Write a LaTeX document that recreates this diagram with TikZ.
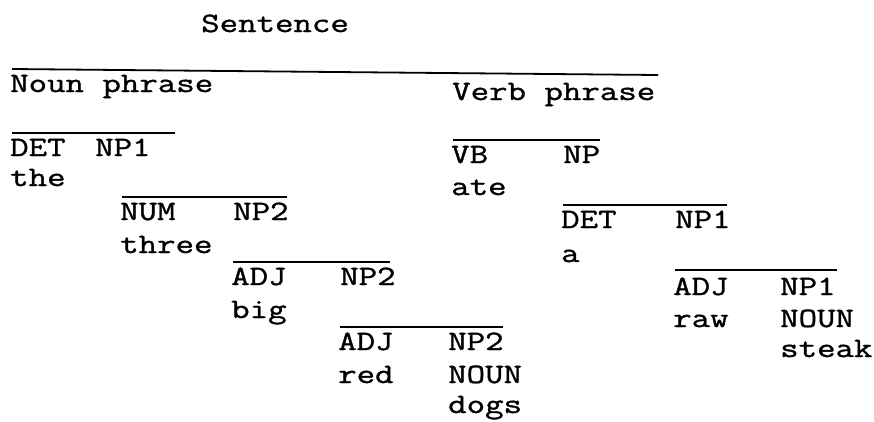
\documentclass[tikz,border=0pt]{standalone}
\usepackage{fontspec}
\newfontfamily\tw[FakeStretch=1.28,FakeBold=1.2]{Latin Modern Mono}
\begin{document}
\begin{tikzpicture}[x=1pt,y=-1pt,
  lbl/.style={anchor=base west,inner sep=0pt,font=\tw\fontsize{28}{30}\selectfont},
  bar/.style={line width=1.8pt}]
\useasboundingbox[fill=white] (0,0) rectangle (874,421);
% top level
\node[lbl] (sent) at (201,32) {Sentence};
\draw[bar] (12,69) -- (658,75);
\node[lbl] (np) at (10,92) {Noun phrase};
\node[lbl] (vp) at (452,100) {Verb phrase};
% noun phrase branch
\draw[bar] (12,133) -- (175,133);
\node[lbl] (det1) at (10,156) {DET};
\node[lbl] (np1a) at (95,156) {NP1};
\node[lbl] (the) at (10,186) {the};
\draw[bar] (122,197) -- (287,197);
\node[lbl] (num) at (120,220) {NUM};
\node[lbl] (np2a) at (233,220) {NP2};
\node[lbl] (three) at (120,253) {three};
\draw[bar] (233,262) -- (390,262);
\node[lbl] (adj1) at (231,285) {ADJ};
\node[lbl] (np2b) at (340,285) {NP2};
\node[lbl] (big) at (231,318) {big};
\draw[bar] (340,327) -- (503,327);
\node[lbl] (adj2) at (338,350) {ADJ};
\node[lbl] (np2c) at (448,350) {NP2};
\node[lbl] (red) at (338,383) {red};
\node[lbl] (noun1) at (448,383) {NOUN};
\node[lbl] (dogs) at (448,413) {dogs};
% verb phrase branch
\draw[bar] (453,140) -- (600,140);
\node[lbl] (vb) at (451,163) {VB};
\node[lbl] (npv) at (563,163) {NP};
\node[lbl] (ate) at (451,195) {ate};
\draw[bar] (563,205) -- (727,205);
\node[lbl] (det2) at (561,228) {DET};
\node[lbl] (np1b) at (675,228) {NP1};
\node[lbl] (a) at (561,262) {a};
\draw[bar] (675,270) -- (837,270);
\node[lbl] (adj3) at (673,295) {ADJ};
\node[lbl] (np1c) at (780,295) {NP1};
\node[lbl] (raw) at (673,327) {raw};
\node[lbl] (noun2) at (780,327) {NOUN};
\node[lbl] (steak) at (780,357) {steak};
\end{tikzpicture}
\end{document}
